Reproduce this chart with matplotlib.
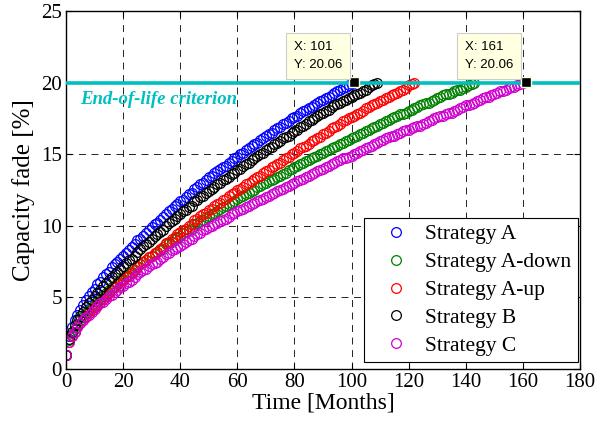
import matplotlib
matplotlib.use("Agg")
import matplotlib.pyplot as plt
import numpy as np

# capacity fade [%] per month (t = 0, 1, 2, ...)
FADE_A = [1.0, 2.3, 2.9, 3.4, 3.8, 4.1, 4.5, 4.8, 5.1, 5.4, 5.6,
          5.9, 6.1, 6.4, 6.6, 6.8, 7.1, 7.3, 7.5, 7.7, 7.9,
          8.1, 8.3, 8.5, 8.7, 9.0, 9.1, 9.3, 9.5, 9.7, 9.9,
          10.1, 10.2, 10.4, 10.6, 10.8, 11.0, 11.2, 11.4, 11.5, 11.7,
          11.8, 12.0, 12.2, 12.3, 12.6, 12.7, 12.9, 13.0, 13.2, 13.4,
          13.5, 13.7, 13.8, 14.0, 14.1, 14.2, 14.4, 14.5, 14.7, 14.8,
          15.0, 15.1, 15.3, 15.4, 15.6, 15.7, 15.8, 16.0, 16.1, 16.3,
          16.4, 16.5, 16.7, 16.8, 16.9, 17.1, 17.2, 17.3, 17.5, 17.6,
          17.7, 17.9, 18.0, 18.1, 18.2, 18.3, 18.4, 18.6, 18.7, 18.8,
          18.9, 19.0, 19.1, 19.3, 19.4, 19.5, 19.6, 19.7, 19.8, 19.9,
          20.06]
FADE_A_DOWN = [1.0, 2.0, 2.4, 2.8, 3.1, 3.4, 3.6, 3.9, 4.1, 4.3, 4.5,
               4.7, 4.9, 5.1, 5.3, 5.5, 5.7, 5.8, 6.0, 6.2, 6.3,
               6.5, 6.6, 6.8, 6.9, 7.2, 7.3, 7.5, 7.6, 7.8, 7.9,
               8.0, 8.2, 8.3, 8.4, 8.7, 8.8, 8.9, 9.1, 9.2, 9.3,
               9.5, 9.6, 9.7, 9.8, 10.1, 10.2, 10.3, 10.4, 10.6, 10.7,
               10.8, 10.9, 11.0, 11.2, 11.3, 11.4, 11.5, 11.6, 11.7, 11.9,
               12.0, 12.1, 12.2, 12.3, 12.4, 12.5, 12.7, 12.8, 12.9, 13.0,
               13.1, 13.2, 13.3, 13.4, 13.5, 13.6, 13.7, 13.9, 14.0, 14.1,
               14.2, 14.3, 14.4, 14.5, 14.6, 14.7, 14.8, 14.9, 15.0, 15.1,
               15.2, 15.3, 15.4, 15.5, 15.6, 15.7, 15.8, 15.9, 16.0, 16.1,
               16.2, 16.3, 16.4, 16.5, 16.6, 16.7, 16.8, 16.9, 17.0, 17.1,
               17.2, 17.3, 17.4, 17.5, 17.6, 17.7, 17.8, 17.8, 17.9, 18.0,
               18.1, 18.2, 18.3, 18.4, 18.5, 18.6, 18.6, 18.7, 18.8, 18.9,
               19.0, 19.1, 19.2, 19.2, 19.3, 19.4, 19.5, 19.5, 19.6, 19.7,
               19.8, 19.9, 20.0]
FADE_A_UP = [1.0, 1.9, 2.3, 2.6, 2.9, 3.2, 3.4, 3.7, 3.9, 4.1, 4.3,
             4.5, 4.7, 4.9, 5.1, 5.3, 5.5, 5.7, 5.9, 6.0, 6.2,
             6.4, 6.5, 6.7, 6.9, 7.1, 7.3, 7.5, 7.6, 7.8, 7.9,
             8.1, 8.2, 8.4, 8.5, 8.8, 8.9, 9.1, 9.2, 9.4, 9.6,
             9.7, 9.8, 10.0, 10.1, 10.4, 10.5, 10.7, 10.8, 10.9, 11.1,
             11.2, 11.4, 11.5, 11.6, 11.8, 11.9, 12.1, 12.2, 12.3, 12.5,
             12.6, 12.7, 12.9, 13.0, 13.1, 13.3, 13.4, 13.5, 13.7, 13.8,
             13.9, 14.1, 14.2, 14.3, 14.4, 14.6, 14.7, 14.8, 15.0, 15.1,
             15.2, 15.4, 15.5, 15.6, 15.7, 15.9, 16.0, 16.1, 16.2, 16.4,
             16.5, 16.6, 16.8, 16.9, 17.0, 17.1, 17.3, 17.4, 17.5, 17.6,
             17.7, 17.8, 17.9, 18.0, 18.2, 18.3, 18.4, 18.5, 18.6, 18.7,
             18.8, 18.9, 19.0, 19.1, 19.2, 19.3, 19.4, 19.5, 19.6, 19.8,
             19.9, 20.0]
FADE_B = [1.0, 2.1, 2.6, 3.1, 3.4, 3.7, 4.0, 4.3, 4.6, 4.8, 5.1,
          5.3, 5.5, 5.8, 6.0, 6.2, 6.4, 6.6, 6.8, 7.0, 7.2,
          7.4, 7.6, 7.7, 7.9, 8.2, 8.4, 8.6, 8.7, 8.9, 9.1,
          9.3, 9.4, 9.6, 9.7, 10.0, 10.2, 10.3, 10.5, 10.7, 10.8,
          11.0, 11.1, 11.3, 11.4, 11.7, 11.8, 12.0, 12.1, 12.3, 12.4,
          12.6, 12.7, 12.9, 13.0, 13.2, 13.3, 13.4, 13.6, 13.7, 13.9,
          14.0, 14.2, 14.3, 14.4, 14.6, 14.7, 14.9, 15.0, 15.1, 15.3,
          15.4, 15.5, 15.7, 15.8, 15.9, 16.1, 16.2, 16.3, 16.5, 16.6,
          16.7, 16.9, 17.0, 17.1, 17.3, 17.4, 17.5, 17.7, 17.8, 17.9,
          18.0, 18.1, 18.3, 18.4, 18.5, 18.6, 18.7, 18.8, 18.9, 19.0,
          19.1, 19.2, 19.3, 19.4, 19.5, 19.7, 19.8, 19.9, 20.0]
FADE_C = [1.0, 1.9, 2.3, 2.6, 2.9, 3.2, 3.4, 3.6, 3.8, 4.0, 4.2,
          4.4, 4.6, 4.7, 4.9, 5.1, 5.2, 5.4, 5.5, 5.7, 5.8,
          6.0, 6.1, 6.2, 6.4, 6.6, 6.8, 6.9, 7.0, 7.2, 7.3,
          7.4, 7.5, 7.7, 7.8, 8.0, 8.1, 8.3, 8.4, 8.5, 8.6,
          8.7, 8.9, 9.0, 9.1, 9.3, 9.4, 9.5, 9.7, 9.8, 9.9,
          10.0, 10.1, 10.2, 10.3, 10.4, 10.5, 10.6, 10.8, 10.9, 11.0,
          11.1, 11.2, 11.3, 11.4, 11.5, 11.6, 11.7, 11.8, 11.9, 12.0,
          12.1, 12.2, 12.3, 12.4, 12.5, 12.6, 12.7, 12.8, 12.9, 13.0,
          13.1, 13.2, 13.3, 13.4, 13.5, 13.6, 13.7, 13.8, 13.9, 14.0,
          14.1, 14.2, 14.3, 14.4, 14.5, 14.6, 14.7, 14.7, 14.8, 14.9,
          15.0, 15.1, 15.2, 15.3, 15.4, 15.5, 15.6, 15.7, 15.8, 15.9,
          16.0, 16.1, 16.2, 16.3, 16.3, 16.4, 16.5, 16.6, 16.7, 16.7,
          16.8, 16.9, 17.0, 17.0, 17.1, 17.2, 17.3, 17.4, 17.5, 17.6,
          17.7, 17.7, 17.8, 17.9, 17.9, 18.0, 18.1, 18.2, 18.3, 18.4,
          18.4, 18.5, 18.6, 18.7, 18.8, 18.9, 19.0, 19.0, 19.1, 19.2,
          19.3, 19.4, 19.4, 19.5, 19.6, 19.7, 19.7, 19.8, 19.9, 20.0,
          20.06]

LABELS = ["Strategy A", "Strategy A-down", "Strategy A-up", "Strategy B", "Strategy C"]
SERIES = [FADE_A, FADE_A_DOWN, FADE_A_UP, FADE_B, FADE_C]
COLORS = ["#0000FF", "#008000", "#FF0000", "#000000", "#D000D0"]

EOL = 20.0
TIP_X = [101, 161]
TIP_Y = [20.06, 20.06]

plt.rcParams["font.family"] = ["Liberation Serif", "DejaVu Serif"]
plt.rcParams["lines.scale_dashes"] = False

fig = plt.figure(figsize=(6.02, 4.29), dpi=100)
ax = fig.add_axes([0.1096, 0.1399, 0.8539, 0.8345])

for label, fade, color in zip(LABELS, SERIES, COLORS):
    months = np.arange(len(fade))
    ax.plot(months, fade, ls="none", marker="o", ms=7, mfc="none",
            mec=color, mew=0.9, label=label)

ax.axhline(EOL, color="#00BFBF", lw=2.6, zorder=5)
ax.text(5, 18.85, "End-of-life criterion", color="#00BFBF", fontsize=13.5,
        fontweight="bold", fontstyle="italic", va="center", zorder=6)

# data tips
ax.plot(TIP_X, TIP_Y, ls="none", marker="s", ms=7, mfc="k", mec="#FFFFE0",
        mew=1.0, zorder=7, clip_on=False)
for x, y in zip(TIP_X, TIP_Y):
    ax.annotate(f"X: {x}\nY: {y:.2f}", xy=(x, y), xytext=(-9, 8),
                textcoords="offset points", ha="right", va="bottom",
                multialignment="left", fontsize=9.5,
                family=["Liberation Sans", "DejaVu Sans"], linespacing=1.6,
                bbox=dict(boxstyle="square,pad=0.6", fc="#FFFFE1",
                          ec="#CDCDCD", lw=0.8), zorder=8)

ax.set_xlim(0, 180)
ax.set_ylim(0, 25)
ax.set_xticks(np.arange(0, 181, 20))
ax.set_yticks(np.arange(0, 26, 5))
ax.set_axisbelow(True)
ax.grid(True, color="k", ls=(0, (5, 4)), lw=0.6)
ax.tick_params(direction="in", length=4, width=0.8, top=True, right=True,
               labelsize=15, pad=3)
for sp in ax.spines.values():
    sp.set_linewidth(1.0)

ax.set_xlabel("Time [Months]", fontsize=17, labelpad=0)
ax.set_ylabel("Capacity fade [%]", fontsize=18, labelpad=4)

leg = ax.legend(loc="lower right", bbox_to_anchor=(0.996, 0.019),
                fontsize=15.5, frameon=True, fancybox=False,
                edgecolor="k", framealpha=1, borderaxespad=0,
                handletextpad=0.15, handlelength=2.4, labelspacing=0.36,
                numpoints=1, borderpad=0.3)
leg.get_frame().set_linewidth(0.8)

fig.savefig("out.png", dpi=100)
